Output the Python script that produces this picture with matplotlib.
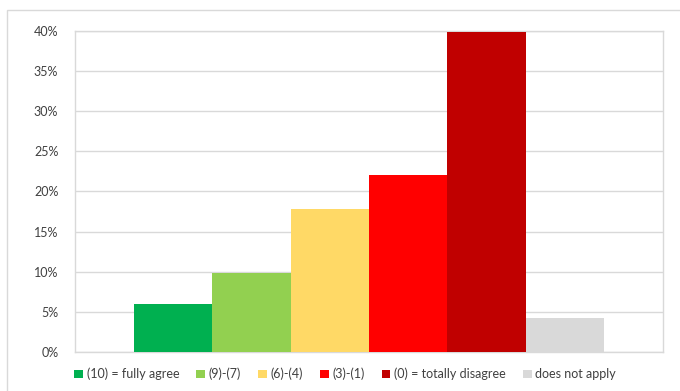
import matplotlib.pyplot as plt
from matplotlib.patches import Rectangle, Patch
from matplotlib.ticker import PercentFormatter

# data
labels = ['(10) = fully agree', '(9)-(7)', '(6)-(4)', '(3)-(1)',
          '(0) = totally disagree', 'does not apply']
values = [6.0, 9.8, 17.8, 22.1, 39.9, 4.2]
colors = ['#00b050', '#92d050', '#ffd966', '#ff0000', '#c00000', '#d9d9d9']
yticks = [0, 5, 10, 15, 20, 25, 30, 35, 40]

plt.rcParams['font.family'] = ['Lato', 'DejaVu Sans']

fig = plt.figure(figsize=(6.8, 3.91), dpi=100)
fig.patches.append(Rectangle((7 / 680, -0.05), 1.0, 1 - 10 / 391 + 0.05,
                             transform=fig.transFigure, fill=False,
                             edgecolor='#d9d9d9', linewidth=1))

ax = fig.add_axes([75 / 680, 1 - 352 / 391, 588 / 680, 321 / 391])
x = list(range(len(values)))
ax.bar(x, values, width=1.0, color=colors, zorder=3)

ax.set_xlim(-1.25, 6.25)
ax.set_ylim(0, 40)
ax.set_yticks(yticks)
ax.yaxis.set_major_formatter(PercentFormatter(decimals=0))
ax.set_xticks([])
ax.tick_params(axis='y', length=0, labelsize=9, colors='#404040', pad=12)
ax.grid(axis='y', color='#d9d9d9', linewidth=1, zorder=0)
for s in ax.spines.values():
    s.set_color('#d9d9d9')
    s.set_linewidth(1)

handles = [Patch(facecolor=c, edgecolor='none') for c in colors]
fig.legend(handles, labels, loc='center left', bbox_to_anchor=(63 / 680, 1 - 374 / 391),
           ncol=6, frameon=False, fontsize=9, handlelength=0.7, handleheight=0.7,
           handletextpad=0.3, columnspacing=1.35, labelcolor='#404040')

fig.savefig('out.png', dpi=100)
